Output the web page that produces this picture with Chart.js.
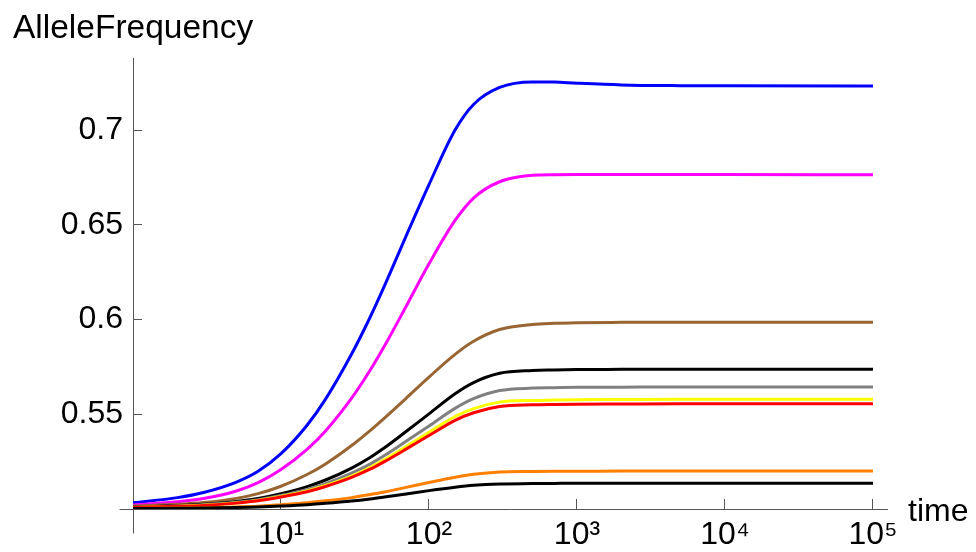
<!DOCTYPE html>
<html>
<head>
<meta charset="utf-8">
<script src="https://cdn.jsdelivr.net/npm/chart.js@4/dist/chart.umd.min.js"></script>
<style>
  html, body { margin: 0; padding: 0; background: #fff; }
  #wrap { width: 976px; height: 552px; position: relative; }
</style>
</head>
<body>
<div id="wrap"><canvas id="freqChart"></canvas></div>
<script>
// time points (log scale) and allele frequency per curve
const timePoints = [1, 2, 3, 5, 7, 10, 15, 20, 30, 40, 50, 70, 100, 150, 200, 300, 500, 700, 1000, 2000, 5000, 10000, 100000];

const blueFreq    = [0.5033, 0.506, 0.5087, 0.5142, 0.5199, 0.5292, 0.5442, 0.558, 0.5818, 0.6012, 0.6177, 0.644, 0.6712, 0.700, 0.7135, 0.7225, 0.7254, 0.7253, 0.7247, 0.7238, 0.7234, 0.7233, 0.7232];
const magentaFreq = [0.5021, 0.5038, 0.5055, 0.5095, 0.5139, 0.5209, 0.5315, 0.5412, 0.5585, 0.5732, 0.586, 0.6069, 0.6294, 0.6523, 0.6641, 0.6727, 0.6761, 0.6764, 0.6765, 0.6765, 0.6765, 0.6765, 0.6764];
const brownFreq   = [0.5016, 0.5025, 0.5034, 0.5056, 0.5081, 0.512, 0.5182, 0.5238, 0.5335, 0.5414, 0.548, 0.5584, 0.5696, 0.5816, 0.5885, 0.5947, 0.5974, 0.598, 0.5983, 0.5985, 0.5986, 0.5986, 0.5986];
const blackHiFreq = [0.501, 0.5018, 0.5025, 0.504, 0.5056, 0.5081, 0.5118, 0.5153, 0.5216, 0.5272, 0.5323, 0.5409, 0.5502, 0.5608, 0.5667, 0.5716, 0.5731, 0.5734, 0.5736, 0.5737, 0.5738, 0.5738, 0.5738];
const grayFreq    = [0.5009, 0.5016, 0.5022, 0.5035, 0.5049, 0.5071, 0.5103, 0.5134, 0.5189, 0.5237, 0.5282, 0.5357, 0.5438, 0.5531, 0.5582, 0.5625, 0.5638, 0.564, 0.5642, 0.5643, 0.5644, 0.5644, 0.5644];
const yellowFreq  = [0.5008, 0.5015, 0.502, 0.5032, 0.5045, 0.5066, 0.5095, 0.5124, 0.5174, 0.5219, 0.5261, 0.533, 0.5405, 0.5488, 0.553, 0.5564, 0.5573, 0.5575, 0.5577, 0.5578, 0.5579, 0.5579, 0.5579];
const redFreq     = [0.5008, 0.5014, 0.5019, 0.5031, 0.5043, 0.5063, 0.5091, 0.5119, 0.5167, 0.521, 0.525, 0.5316, 0.5388, 0.5468, 0.5508, 0.5541, 0.555, 0.5552, 0.5553, 0.5554, 0.5555, 0.5555, 0.5555];
const orangeFreq  = [0.5003, 0.5005, 0.5007, 0.5011, 0.5015, 0.5023, 0.5033, 0.5043, 0.506, 0.5076, 0.509, 0.5114, 0.514, 0.5168, 0.5183, 0.5195, 0.5198, 0.5199, 0.5199, 0.52, 0.52, 0.52, 0.52];
const blackLoFreq = [0.5002, 0.5004, 0.5005, 0.5008, 0.5011, 0.5016, 0.5023, 0.503, 0.5042, 0.5053, 0.5063, 0.5079, 0.5097, 0.5115, 0.5125, 0.5132, 0.5134, 0.5135, 0.5136, 0.5136, 0.5136, 0.5136, 0.5136];

// axis ticks
const xTickValues = [1, 10, 100, 1000, 10000, 100000];
const xTickLabels = ['', '10¹', '10²', '10³', '10⁴', '10⁵'];
const yTickValues = [0.5, 0.55, 0.6, 0.65, 0.7];
const yTickLabels = ['', '0.55', '0.6', '0.65', '0.7'];

// first entries end up on top
const seriesList = [
    { data: blackLoFreq, color: '#000000' },
    { data: orangeFreq,  color: '#FF8000' },
    { data: redFreq,     color: '#FF0000' },
    { data: yellowFreq,  color: '#FFFF00' },
    { data: grayFreq,    color: '#808080' },
    { data: blackHiFreq, color: '#000000' },
    { data: brownFreq,   color: '#996633' },
    { data: magentaFreq, color: '#FF00FF' },
    { data: blueFreq,    color: '#0000FF' }
];

const FONT = "'Liberation Sans', Arial, sans-serif";
const AXIS_COLOR = '#555555';
Chart.defaults.font.family = FONT;
Chart.defaults.color = '#000';

// overhanging axis ends and the "time" label
const axisExtras = {
    id: 'axisExtras',
    afterDraw(chart) {
        const { ctx, chartArea } = chart;
        const x0 = Math.round(chartArea.left) + 0.5;
        const y0 = Math.round(chartArea.bottom) + 0.5;
        ctx.save();
        ctx.strokeStyle = AXIS_COLOR;
        ctx.lineWidth = 1;
        ctx.beginPath();
        ctx.moveTo(x0 - 14, y0);
        ctx.lineTo(x0, y0);
        ctx.moveTo(x0, y0);
        ctx.lineTo(x0, y0 + 24);
        ctx.stroke();
        ctx.fillStyle = '#000';
        ctx.font = '32px ' + FONT;
        ctx.textBaseline = 'alphabetic';
        ctx.fillText('time', chartArea.right + 21, chartArea.bottom + 12);
        ctx.restore();
    }
};

new Chart(document.getElementById('freqChart'), {
    type: 'line',
    data: {
        datasets: seriesList.map(s => ({
            data: timePoints.map((t, i) => ({ x: t, y: s.data[i] })),
            borderColor: s.color,
            backgroundColor: s.color,
            borderWidth: 3,
            pointRadius: 0,
            fill: false,
            cubicInterpolationMode: 'monotone'
        }))
    },
    options: {
        responsive: true,
        maintainAspectRatio: false,
        animation: false,
        layout: { padding: { left: 13, right: 89, top: 0, bottom: 0 } },
        plugins: {
            legend: { display: false },
            tooltip: { enabled: false },
            title: {
                display: true,
                text: 'AlleleFrequency',
                align: 'start',
                color: '#000',
                font: { size: 33.5, weight: 'normal' },
                padding: { top: 9, bottom: 8.8 }
            }
        },
        scales: {
            x: {
                type: 'logarithmic',
                min: 1,
                max: Math.pow(10, 5.0946),
                afterBuildTicks: scale => { scale.ticks = xTickValues.map(v => ({ value: v })); },
                afterFit: scale => { scale.height = 43; },
                ticks: {
                    autoSkip: false,
                    maxRotation: 0,
                    padding: 17,
                    font: { size: 32 },
                    color: '#000',
                    callback: (value) => xTickLabels[xTickValues.indexOf(value)] ?? ''
                },
                grid: { display: true, drawOnChartArea: false, drawTicks: true, tickLength: -10, tickColor: AXIS_COLOR },
                border: { display: true, color: AXIS_COLOR, width: 1 }
            },
            y: {
                type: 'linear',
                min: 0.5,
                max: 0.738,
                afterBuildTicks: scale => { scale.ticks = yTickValues.map(v => ({ value: v })); },
                afterFit: scale => { scale.width = 120; },
                ticks: {
                    autoSkip: false,
                    padding: 19,
                    font: { size: 32 },
                    color: '#000',
                    callback: (value) => {
                        const i = yTickValues.findIndex(v => Math.abs(v - value) < 1e-9);
                        return i >= 0 ? yTickLabels[i] : '';
                    }
                },
                grid: { display: true, drawOnChartArea: false, drawTicks: true, tickLength: -9, tickColor: AXIS_COLOR },
                border: { display: true, color: AXIS_COLOR, width: 1 }
            }
        }
    },
    plugins: [axisExtras]
});
</script>
</body>
</html>
